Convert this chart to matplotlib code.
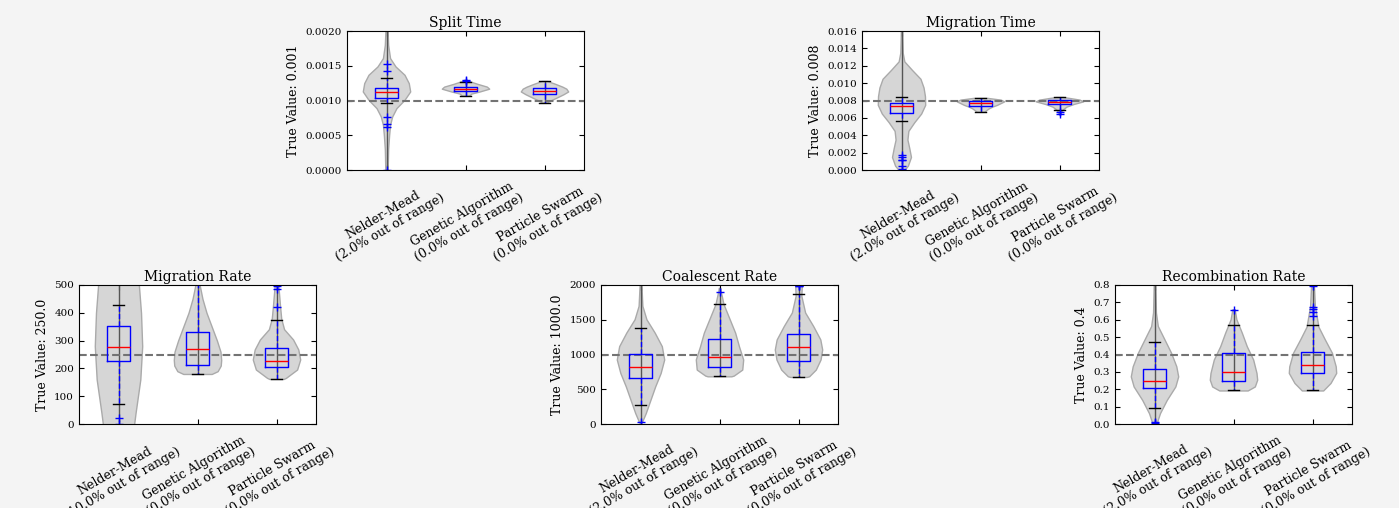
import numpy as np
import matplotlib
matplotlib.use('Agg')
import matplotlib.pyplot as plt

plt.rcParams['font.family'] = ['DejaVu Serif']
plt.rcParams['xtick.direction'] = 'in'
plt.rcParams['ytick.direction'] = 'in'
plt.rcParams['xtick.top'] = True
plt.rcParams['ytick.right'] = True
plt.rcParams['xtick.major.size'] = 3.5
plt.rcParams['ytick.major.size'] = 3.5

# 方法名称
methods = ['Nelder-Mead', 'Genetic Algorithm', 'Particle Swarm']

# ---- Split Time ----
split_out = [2.0, 0.0, 0.0]
split_box = [[0.00097, 0.00104, 0.00112, 0.00118, 0.00132],
             [0.00107, 0.00113, 0.001165, 0.0012, 0.00126],
             [0.00097, 0.00109, 0.00113, 0.00118, 0.00128]]
split_fliers = [[0.00152, 0.00142, 0.00076, 0.00066, 0.00062, 0.0],
                [0.00128, 0.0013], []]
split_coords = [[0.0, 0.0003, 0.0005, 0.00065, 0.00077, 0.00089, 0.00101, 0.00113,
                 0.00125, 0.00137, 0.00149, 0.00161, 0.0018, 0.00205],
                [0.00107, 0.0011, 0.00113, 0.00117, 0.0012, 0.00124, 0.00128, 0.0013],
                [0.00097, 0.001, 0.00104, 0.00109, 0.00113, 0.00117, 0.0012, 0.00124, 0.00128]]
split_dens = [[0.05, 0.07, 0.11, 0.15, 0.24, 0.42, 0.76, 1.0, 0.94, 0.76, 0.38, 0.15, 0.07, 0.04],
              [0.15, 0.25, 0.6, 1.0, 0.9, 0.5, 0.15, 0.05],
              [0.1, 0.25, 0.5, 0.8, 1.0, 0.92, 0.75, 0.45, 0.12]]

# ---- Migration Time ----
mtime_out = [2.0, 0.0, 0.0]
mtime_box = [[0.0056, 0.00653, 0.00742, 0.00775, 0.00836],
             [0.00671, 0.00733, 0.00767, 0.00791, 0.00825],
             [0.0069, 0.00756, 0.00787, 0.0081, 0.00836]]
mtime_fliers = [[0.0017, 0.0015, 0.0012, 0.0011, 0.0005, 0.0001], [], [0.00664, 0.0064]]
mtime_coords = [[0.0, 0.0005, 0.0015, 0.0025, 0.0035, 0.0045, 0.0055, 0.0065, 0.0075,
                 0.0085, 0.0095, 0.0105, 0.0115, 0.0125, 0.0135, 0.0165],
                [0.0067, 0.0069, 0.0071, 0.0073, 0.0075, 0.0077, 0.0079, 0.0081, 0.0083],
                [0.0064, 0.0067, 0.007, 0.0073, 0.0076, 0.0079, 0.0081, 0.0083, 0.0084]]
mtime_dens = [[0.12, 0.27, 0.4, 0.33, 0.25, 0.29, 0.54, 0.83, 1.0, 0.99, 0.93, 0.8, 0.45, 0.12, 0.05, 0.02],
              [0.15, 0.25, 0.35, 0.5, 0.7, 0.85, 1.0, 0.85, 0.3],
              [0.03, 0.06, 0.15, 0.3, 0.6, 1.0, 0.85, 0.4, 0.15]]

# ---- Migration Rate ----
mrate_out = [10.0, 0.0, 0.0]
mrate_box = [[72, 227, 278, 351, 427],
             [180, 211, 271, 331, 560],
             [162, 204, 227, 274, 373]]
mrate_fliers = [[23, 1], [], [421, 486, 497]]
mrate_coords = [[-80, 0, 40, 160, 280, 400, 500, 580],
                [180, 190, 210, 230, 260, 300, 350, 400, 450, 500, 560],
                [162, 166, 196, 232, 268, 304, 341, 379, 424, 486, 520]]
mrate_dens = [[0.45, 0.66, 0.72, 0.92, 1.0, 0.95, 0.86, 0.7],
              [0.6, 0.85, 0.98, 1.0, 0.97, 0.82, 0.6, 0.38, 0.21, 0.09, 0.04],
              [0.3, 0.4, 0.87, 1.0, 0.92, 0.7, 0.32, 0.2, 0.15, 0.09, 0.05]]

# ---- Coalescent Rate ----
coal_out = [2.0, 0.0, 0.0]
coal_box = [[280, 667, 821, 1014, 1377],
            [686, 821, 957, 1227, 1725],
            [677, 903, 1101, 1300, 1870]]
coal_fliers = [[29], [1903], [1980, 1992, 1998]]
coal_coords = [[20, 155, 348, 541, 734, 928, 1120, 1314, 1507, 1700, 2050],
               [686, 696, 783, 928, 1120, 1314, 1507, 1725, 1913, 1960],
               [677, 687, 783, 928, 1072, 1217, 1410, 1604, 1845, 1990, 2100]]
coal_dens = [[0.05, 0.22, 0.42, 0.62, 0.85, 1.0, 0.9, 0.6, 0.25, 0.08, 0.03],
             [0.5, 0.6, 0.96, 1.0, 0.82, 0.66, 0.43, 0.17, 0.05, 0.03],
             [0.35, 0.45, 0.73, 0.93, 1.0, 0.92, 0.62, 0.28, 0.12, 0.14, 0.1]]

# ---- Recombination Rate ----
recomb_out = [2.0, 0.0, 0.0]
recomb_box = [[0.093, 0.209, 0.249, 0.317, 0.47],
              [0.193, 0.248, 0.301, 0.406, 0.572],
              [0.193, 0.292, 0.34, 0.413, 0.568]]
recomb_fliers = [[0.008, 0.012], [0.657], [0.795, 0.672, 0.66, 0.645, 0.62]]
recomb_coords = [[0.0, 0.062, 0.139, 0.216, 0.274, 0.332, 0.41, 0.487, 0.564, 0.642, 0.82],
                 [0.193, 0.216, 0.255, 0.294, 0.371, 0.448, 0.526, 0.603, 0.66],
                 [0.193, 0.236, 0.294, 0.332, 0.41, 0.487, 0.56, 0.68, 0.8, 0.82]]
recomb_dens = [[0.08, 0.23, 0.52, 0.88, 1.0, 0.92, 0.7, 0.42, 0.14, 0.06, 0.03],
               [0.6, 0.9, 1.0, 0.97, 0.83, 0.56, 0.35, 0.12, 0.05],
               [0.45, 0.76, 1.0, 0.98, 0.82, 0.52, 0.25, 0.1, 0.06, 0.04]]


def draw_panel(ax, title, truth, ymax, ystep, fmt, coords, dens, boxes, fliers, out_pct):
    """画一个小图：小提琴 + 箱线图 + 真值虚线"""
    pos = [1, 2, 3]
    vstats = []
    bstats = []
    for c, d, b, f in zip(coords, dens, boxes, fliers):
        vstats.append({'coords': np.array(c), 'vals': np.array(d), 'mean': b[2],
                       'median': b[2], 'min': c[0], 'max': c[-1]})
        bstats.append({'whislo': b[0], 'q1': b[1], 'med': b[2], 'q3': b[3],
                       'whishi': b[4], 'fliers': f})

    parts = ax.violin(vstats, positions=pos, widths=0.6, showextrema=True)
    for body in parts['bodies']:
        body.set_facecolor('#d6d6d6')
        body.set_edgecolor('#aaaaaa')
        body.set_alpha(1)
        body.set_linewidth(1)
    parts['cmins'].set_visible(False)
    parts['cmaxes'].set_visible(False)
    parts['cbars'].set_color('#555555')
    parts['cbars'].set_linewidth(1)

    ax.axhline(truth, color='0.45', linestyle='--', linewidth=1.5)

    ax.bxp(bstats, positions=pos, widths=0.3, manage_ticks=False,
           boxprops=dict(color='blue', linewidth=1),
           whiskerprops=dict(color='blue', linestyle='--', linewidth=1),
           capprops=dict(color='black', linewidth=1),
           medianprops=dict(color='red', linewidth=1),
           flierprops=dict(marker='+', markeredgecolor='blue', markersize=6,
                           markeredgewidth=1, linestyle='none'))

    ax.set_xlim(0.5, 3.5)
    ax.set_ylim(0, ymax)
    ticks = np.arange(0, ymax + ystep / 2, ystep)
    ax.set_yticks(ticks)
    ax.set_yticklabels([fmt.format(v) for v in ticks], fontsize=7.5)
    ax.set_xticks(pos)
    ax.set_xticklabels([f'{m}\n({p:.1f}% out of range)' for m, p in zip(methods, out_pct)],
                       rotation=30, ha='center', fontsize=9)
    ax.tick_params(axis='x', pad=6)
    ax.set_title(title, fontsize=10, pad=3)
    ax.set_ylabel(f'True Value: {truth}', fontsize=9)
    ax.set_facecolor('white')


fig = plt.figure(figsize=(13.99, 5.08), dpi=100)
fig.patch.set_facecolor('#f4f4f4')

W, H = 1399.0, 508.0
w, h = 237 / W, 139 / H

ax1 = fig.add_axes([347 / W, 1 - 170 / H, w, h])
ax2 = fig.add_axes([862 / W, 1 - 170 / H, w, h])
ax3 = fig.add_axes([79 / W, 1 - 424 / H, w, h])
ax4 = fig.add_axes([601 / W, 1 - 424 / H, w, h])
ax5 = fig.add_axes([1115 / W, 1 - 424 / H, w, h])

draw_panel(ax1, 'Split Time', 0.001, 0.002, 0.0005, '{:.4f}',
           split_coords, split_dens, split_box, split_fliers, split_out)
draw_panel(ax2, 'Migration Time', 0.008, 0.016, 0.002, '{:.3f}',
           mtime_coords, mtime_dens, mtime_box, mtime_fliers, mtime_out)
draw_panel(ax3, 'Migration Rate', 250.0, 500, 100, '{:.0f}',
           mrate_coords, mrate_dens, mrate_box, mrate_fliers, mrate_out)
draw_panel(ax4, 'Coalescent Rate', 1000.0, 2000, 500, '{:.0f}',
           coal_coords, coal_dens, coal_box, coal_fliers, coal_out)
draw_panel(ax5, 'Recombination Rate', 0.4, 0.8, 0.1, '{:.1f}',
           recomb_coords, recomb_dens, recomb_box, recomb_fliers, recomb_out)

plt.savefig('out.png', dpi=100, facecolor=fig.get_facecolor())
